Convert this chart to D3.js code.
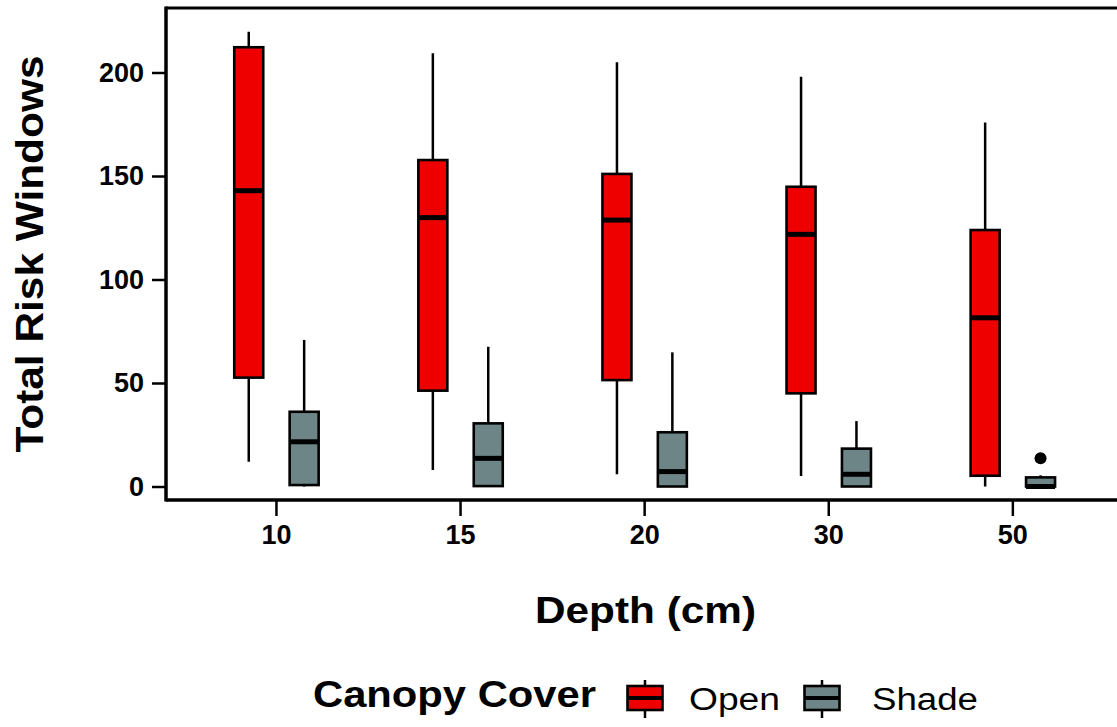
<!DOCTYPE html>
<html>
<head>
<meta charset="utf-8">
<script src="https://cdn.jsdelivr.net/npm/d3@7"></script>
<style>
  html, body { margin: 0; padding: 0; background: #fff; }
  svg { display: block; font-family: "Liberation Sans", Arial, sans-serif; }
</style>
</head>
<body>
<div id="chart"></div>
<script>
// Depth categories (x axis)
const depths = ["10", "15", "20", "30", "50"];
const groups = ["Open", "Shade"];
// box stats per depth: [min, q1, median, q3, max]
const openBoxes = [
  [12, 52.6, 142.9, 212.2, 219.7],
  [8, 46.3, 129.9, 157.7, 209.3],
  [5.9, 51.4, 128.7, 151, 204.9],
  [5.1, 45, 121.8, 144.8, 198],
  [0, 5.2, 81.5, 123.9, 175.9]
];
const shadeBoxes = [
  [0, 0.7, 21.6, 36.1, 70.8],
  [0, 0.2, 13.6, 30.5, 67.5],
  [0, 0, 7.2, 26.2, 64.8],
  [0, 0, 5.9, 18.3, 31.6],
  [0, 0, 0, 4.4, 5.4]
];
// outliers: [depth, value]
const shadeOutliers = [["50", 13.6]];
const yTicks = [0, 50, 100, 150, 200];

const W = 1117, H = 727;
const fill = { Open: "#ee0000", Shade: "#6e8587" };
const plotLeft = 166, plotTop = 8, plotBottom = 500;

const svg = d3.select("#chart").append("svg")
  .attr("width", W).attr("height", H);

const x = d3.scaleBand().domain(depths).range([184.4, 1104.9]).padding(0);
// dodge within each depth
const dodge = d3.scaleBand().domain(groups).range([-55.4, 55.4]).padding(0);
const boxW = 29;
const y = d3.scaleLinear().domain([0, 200]).range([486.5, 72.5]);

function cxOf(depth, group) {
  return x(depth) + x.bandwidth() / 2 + dodge(group) + dodge.bandwidth() / 2;
}

// frame
svg.append("line").attr("x1", plotLeft).attr("x2", W).attr("y1", plotTop).attr("y2", plotTop)
  .attr("stroke", "#000").attr("stroke-width", 3);

// boxes
function drawBoxes(boxes, group) {
  const g = svg.append("g").attr("class", "boxes-" + group);
  boxes.forEach(function (b, i) {
    const cx = cxOf(depths[i], group);
    g.append("line")
      .attr("x1", cx).attr("x2", cx)
      .attr("y1", y(b[0])).attr("y2", y(b[4]))
      .attr("stroke", "#000").attr("stroke-width", 2.5);
    g.append("rect")
      .attr("x", cx - boxW / 2).attr("width", boxW)
      .attr("y", y(b[3])).attr("height", Math.max(y(b[1]) - y(b[3]), 0))
      .attr("fill", fill[group]).attr("stroke", "#000").attr("stroke-width", 2.6);
    g.append("line")
      .attr("x1", cx - boxW / 2).attr("x2", cx + boxW / 2)
      .attr("y1", y(b[2])).attr("y2", y(b[2]))
      .attr("stroke", "#000").attr("stroke-width", 5);
  });
}
drawBoxes(openBoxes, "Open");
drawBoxes(shadeBoxes, "Shade");

svg.selectAll(".outlier")
  .data(shadeOutliers)
  .enter().append("circle")
  .attr("class", "outlier")
  .attr("cx", function (d) { return cxOf(d[0], "Shade"); })
  .attr("cy", function (d) { return y(d[1]); })
  .attr("r", 6).attr("fill", "#000");

// axes
const yAxis = svg.append("g")
  .attr("transform", "translate(" + plotLeft + ",0)")
  .call(d3.axisLeft(y).tickValues(yTicks).tickSize(14).tickPadding(8));
yAxis.select(".domain").remove();
yAxis.selectAll(".tick line").attr("stroke-width", 2.5);
yAxis.selectAll(".tick text")
  .attr("font-size", 27).attr("font-weight", "bold").attr("fill", "#000")
  .attr("font-family", "Liberation Sans, Arial, sans-serif");

const xAxis = svg.append("g")
  .attr("transform", "translate(0," + plotBottom + ")")
  .call(d3.axisBottom(x).tickSize(16).tickPadding(9));
xAxis.select(".domain").remove();
xAxis.selectAll(".tick line").attr("stroke-width", 2.5);
xAxis.selectAll(".tick text")
  .attr("font-size", 27).attr("font-weight", "bold").attr("fill", "#000")
  .attr("font-family", "Liberation Sans, Arial, sans-serif");

svg.append("line").attr("x1", plotLeft).attr("x2", plotLeft).attr("y1", plotTop - 1.5).attr("y2", plotBottom + 1.5)
  .attr("stroke", "#000").attr("stroke-width", 3.5);
svg.append("line").attr("x1", plotLeft).attr("x2", W).attr("y1", plotBottom).attr("y2", plotBottom)
  .attr("stroke", "#000").attr("stroke-width", 3.5);

// titles (the source fonts are wider than Liberation, so fix the lengths)
svg.append("text")
  .attr("transform", "translate(43,254) rotate(-90)")
  .attr("text-anchor", "middle")
  .attr("font-size", 38).attr("font-weight", "bold")
  .attr("textLength", 397).attr("lengthAdjust", "spacingAndGlyphs")
  .text("Total Risk Windows");

svg.append("text")
  .attr("x", 535).attr("y", 623)
  .attr("font-size", 37).attr("font-weight", "bold")
  .attr("textLength", 221).attr("lengthAdjust", "spacingAndGlyphs")
  .text("Depth (cm)");

// legend
const legY = 698;
svg.append("text")
  .attr("x", 313).attr("y", 707)
  .attr("font-size", 37.5).attr("font-weight", "bold")
  .attr("textLength", 283).attr("lengthAdjust", "spacingAndGlyphs")
  .text("Canopy Cover");

const legendItems = [
  { key: "Open", kx: 645, tx: 689, tw: 91 },
  { key: "Shade", kx: 822, tx: 872, tw: 106 }
];
legendItems.forEach(function (d) {
  const g = svg.append("g");
  g.append("line").attr("x1", d.kx).attr("x2", d.kx).attr("y1", legY - 18).attr("y2", legY + 20)
    .attr("stroke", "#000").attr("stroke-width", 2.5);
  g.append("rect").attr("x", d.kx - 17.5).attr("y", legY - 12).attr("width", 35).attr("height", 24)
    .attr("fill", fill[d.key]).attr("stroke", "#000").attr("stroke-width", 2.6);
  g.append("line").attr("x1", d.kx - 17.5).attr("x2", d.kx + 17.5).attr("y1", legY).attr("y2", legY)
    .attr("stroke", "#000").attr("stroke-width", 4);
  g.append("text").attr("x", d.tx).attr("y", 710)
    .attr("font-size", 31)
    .attr("textLength", d.tw).attr("lengthAdjust", "spacingAndGlyphs")
    .text(d.key);
});
</script>
</body>
</html>
